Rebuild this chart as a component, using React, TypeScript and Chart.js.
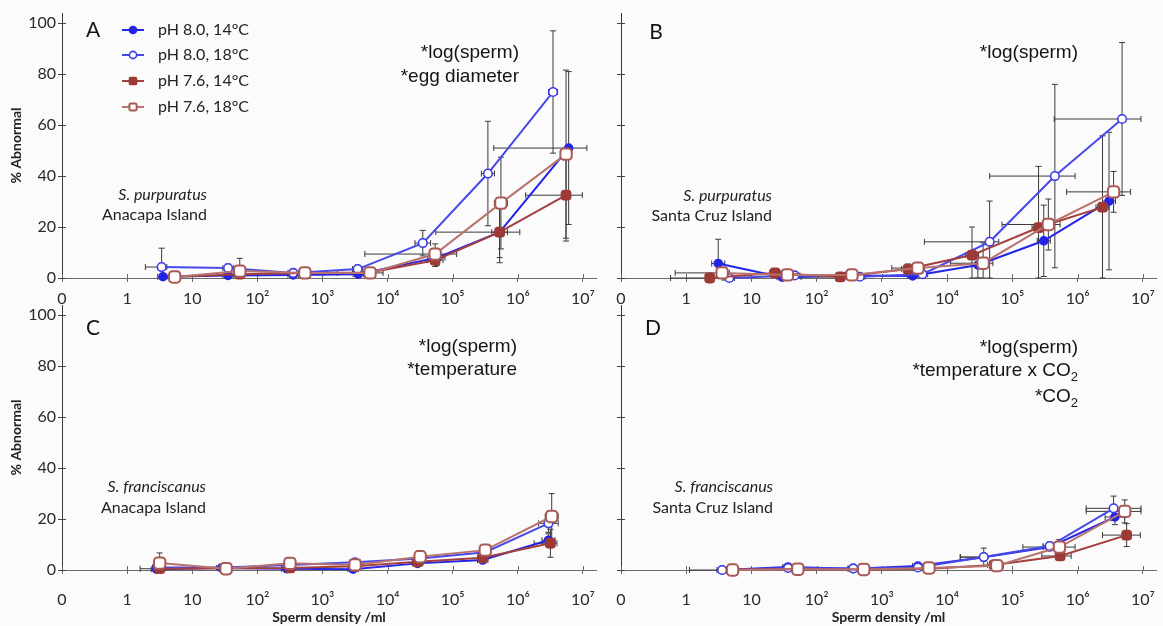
import React, { useEffect, useRef } from 'react';
import { Chart, registerables } from 'chart.js';

Chart.register(...registerables);
Chart.defaults.font.family = 'Lato';

// ---------------- data ----------------
const seriesLabels = ['pH 8.0, 14°C', 'pH 8.0, 18°C', 'pH 7.6, 14°C', 'pH 7.6, 18°C'];
// x positions are log10(sperm density); the axis origin (-1) is labelled "0"
const densityTickValues = [-1, 0, 1, 2, 3, 4, 5, 6, 7];
const densityTickLabels = ['0', '1', '10', '10²', '10³', '10⁴', '10⁵', '10⁶', '10⁷'];
const abnormalTickValues = [0, 20, 40, 60, 80, 100];

// Panel A — S. purpuratus, Anacapa Island
const A_logDensity = [
  [0.55, 1.55, 2.55, 3.55, 4.76, 5.72, 6.78],
  [0.53, 1.55, 2.55, 3.54, 4.54, 5.54, 6.54],
  [0.73, 1.73, 2.73, 3.73, 4.73, 5.72, 6.74],
  [0.73, 1.73, 2.73, 3.73, 4.73, 5.74, 6.74],
];
const A_abnormal = [
  [0.5, 1.0, 1.2, 1.5, 8, 18, 51],
  [4.3, 3.9, 2.0, 3.5, 13.7, 41, 73],
  [0.5, 1.5, 2.0, 2.2, 7, 18, 32.5],
  [0.4, 2.7, 2.0, 2.0, 9.4, 29.4, 48.6],
];
const A_abnormalErr = [
  [0.5, 0.8, 0.8, 1, 3, 10, 30],
  [7.4, 1.5, 1, 1.5, 5, 20.5, 24],
  [0.5, 1, 1, 1, 2.5, 12, 18],
  [0.5, 5, 1, 1, 4, 18, 33],
];
const A_densityErr = [
  [0.08, 0.08, 0.08, 0.08, 0.12, 0.12, [1.15, 0.28]],
  [[0.25, 0.08], 0.08, 0.08, 0.08, 0.12, 0.1, 0.07],
  [0.08, 0.08, 0.08, 0.08, 0.12, [0.98, 0.31], [0.62, 0.25]],
  [0.08, 0.08, 0.08, [0.5, 0.2], [1.08, 0.33], 0.1, 0.08],
];

// Panel B — S. purpuratus, Santa Cruz Island
const B_logDensity = [
  [0.49, 1.47, 2.48, 3.47, 4.47, 5.48, 6.48],
  [0.66, 1.66, 2.66, 3.62, 4.65, 5.65, 6.68],
  [0.36, 1.36, 2.36, 3.4, 4.38, 5.4, 6.38],
  [0.55, 1.55, 2.54, 3.55, 4.55, 5.55, 6.55],
];
const B_abnormal = [
  [5.7, 0.3, 1.0, 0.8, 5.1, 14.6, 30.2],
  [0.0, 1.0, 0.5, 1.5, 14.2, 40, 62.4],
  [0.0, 2.0, 0.4, 3.5, 9, 19.8, 27.8],
  [2.0, 1.2, 1.2, 3.9, 5.8, 21, 33.8],
];
const B_abnormalErr = [
  [9.5, 0.5, 0.5, 0.5, 5, 14, 27],
  [0.5, 0.5, 0.5, 1, 16, 36, 30],
  [0.5, 1, 0.5, 2, 11, 24, 28],
  [1, 0.8, 0.5, 2, 8, 10, 8],
];
const B_densityErr = [
  [0.1, 0.08, 0.08, 0.08, 0.1, 0.1, 0.1],
  [0.08, 0.08, 0.08, 0.08, [1.0, 0.14], [1.0, 0.31], [1.04, 0.29]],
  [[0.6, 0.2], 0.08, [0.6, 0.2], 0.1, 0.1, 0.1, 0.1],
  [[0.72, 0.11], 0.08, 0.08, [0.4, 0.1], [0.5, 0.15], [0.71, 0.18], [0.72, 0.26]],
];

// Panel C — S. franciscanus, Anacapa Island
const C_logDensity = [
  [0.45, 1.45, 2.45, 3.47, 4.46, 5.46, 6.47],
  [0.47, 1.5, 2.5, 3.5, 4.5, 5.5, 6.47],
  [0.5, 1.5, 2.5, 3.5, 4.46, 5.46, 6.5],
  [0.5, 1.52, 2.5, 3.5, 4.5, 5.5, 6.52],
];
const C_abnormal = [
  [0.3, 0.8, 0.5, 0.3, 2.6, 3.9, 11.7],
  [1.0, 1.0, 2.0, 3.0, 4.5, 7.0, 18.3],
  [0.5, 0.7, 0.8, 1.5, 3.2, 4.8, 10.5],
  [2.7, 0.5, 2.6, 2.0, 5.2, 7.8, 21],
];
const C_abnormalErr = [
  [0.5, 0.5, 0.5, 0.5, 1, 1, 2.5],
  [1, 0.5, 0.5, 1, 1, 1.5, 3.5],
  [0.5, 0.5, 0.5, 0.5, 1, 1, 5.5],
  [4, 0.5, 1, 1, 1, 2, 9],
];
const C_densityErr = [
  [0.08, 0.08, 0.08, 0.08, 0.08, 0.08, 0.1],
  [0.08, 0.08, 0.08, 0.08, 0.08, 0.08, 0.15],
  [[0.3, 0.08], 0.08, 0.08, 0.08, 0.08, 0.08, [0.25, 0.1]],
  [0.08, 0.08, 0.08, 0.08, 0.08, 0.08, 0.1],
];

// Panel D — S. franciscanus, Santa Cruz Island
const D_logDensity = [
  [0.55, 1.56, 2.56, 3.55, 4.56, 5.57, 6.57],
  [0.55, 1.56, 2.56, 3.55, 4.56, 5.57, 6.55],
  [0.71, 1.71, 2.72, 3.72, 4.72, 5.73, 6.75],
  [0.71, 1.71, 2.72, 3.72, 4.76, 5.72, 6.72],
];
const D_abnormal = [
  [0.0, 1.2, 0.5, 1.6, 5.0, 9.0, 20.8],
  [0.0, 0.8, 0.6, 1.0, 5.1, 9.4, 24.2],
  [0.2, 0.3, 0.2, 0.5, 2.0, 5.5, 13.7],
  [0.0, 0.3, 0.2, 0.8, 1.7, 9.0, 23],
];
const D_abnormalErr = [
  [0.3, 0.5, 0.5, 0.5, 1.5, 1, 3],
  [0.3, 0.5, 0.5, 0.5, 3.5, 1.5, 4.8],
  [0.3, 0.3, 0.3, 0.5, 1, 1, 4.5],
  [0.3, 0.3, 0.3, 0.5, 1, 3, 4.5],
];
const D_densityErr = [
  [0.08, 0.08, 0.08, 0.08, [0.36, 0.05], 0.1, 0.15],
  [[0.5, 0.1], 0.08, 0.08, 0.08, [0.36, 0.05], 0.1, [0.42, 0.42]],
  [0.08, 0.08, 0.08, 0.08, 0.1, [0.28, 0.17], [0.37, 0.21]],
  [0.08, 0.08, 0.08, 0.08, 0.1, [0.56, 0.24], [0.59, 0.25]],
];

// ---------------- styles ----------------
type SeriesStyle = { line: string; fill: string; border: string; point: string; radius: number; bw: number };
const seriesStyles: SeriesStyle[] = [
  { line: '#2424e6', fill: '#2424e6', border: '#2424e6', point: 'circle', radius: 4, bw: 1.5 },
  { line: '#4848ea', fill: '#ffffff', border: '#3c3ce8', point: 'circle', radius: 4.3, bw: 1.6 },
  { line: '#a33f3c', fill: '#9c3a37', border: '#9c3a37', point: 'rectRounded', radius: 5.4, bw: 1.5 },
  { line: '#b8736f', fill: '#ffffff', border: '#a85a56', point: 'rectRounded', radius: 6.6, bw: 2 },
];
const drawOrder = [3, 2, 1, 0];

// ---------------- plugins ----------------
const errorBarPlugin = {
  id: 'errorBars',
  beforeDatasetsDraw(chart: any) {
    const { ctx } = chart;
    const xs = chart.scales.x, ys = chart.scales.y;
    ctx.save();
    ctx.strokeStyle = '#3a3a3a';
    ctx.lineWidth = 1;
    const cap = 3;
    chart.data.datasets.forEach((ds: any) => {
      ds.data.forEach((p: any, i: number) => {
        const px = xs.getPixelForValue(p.x);
        const py = ys.getPixelForValue(p.y);
        const ye = ds.yErr[i];
        if (ye > 0) {
          const yt = ys.getPixelForValue(p.y + ye);
          const yb = ys.getPixelForValue(Math.max(0, p.y - ye));
          ctx.beginPath();
          ctx.moveTo(px, yt); ctx.lineTo(px, yb);
          ctx.moveTo(px - cap, yt); ctx.lineTo(px + cap, yt);
          ctx.moveTo(px - cap, yb); ctx.lineTo(px + cap, yb);
          ctx.stroke();
        }
        const xe = ds.xErr[i];
        const lo = Array.isArray(xe) ? xe[0] : xe;
        const hi = Array.isArray(xe) ? xe[1] : xe;
        if (lo > 0 || hi > 0) {
          const xl = xs.getPixelForValue(p.x - lo);
          const xr = xs.getPixelForValue(p.x + hi);
          ctx.beginPath();
          ctx.moveTo(xl, py); ctx.lineTo(xr, py);
          ctx.moveTo(xl, py - cap); ctx.lineTo(xl, py + cap);
          ctx.moveTo(xr, py - cap); ctx.lineTo(xr, py + cap);
          ctx.stroke();
        }
      });
    });
    ctx.restore();
  },
};

const innerTicksPlugin = {
  id: 'innerTicks',
  beforeDatasetsDraw(chart: any) {
    const { ctx, chartArea } = chart;
    const xs = chart.scales.x, ys = chart.scales.y;
    ctx.save();
    ctx.lineWidth = 1;
    ctx.strokeStyle = '#666';
    xs.ticks.forEach((t: any) => {
      const px = Math.round(xs.getPixelForValue(t.value)) + 0.5;
      ctx.beginPath(); ctx.moveTo(px, chartArea.bottom); ctx.lineTo(px, chartArea.bottom - 4); ctx.stroke();
    });
    ctx.strokeStyle = '#444';
    ys.ticks.forEach((t: any) => {
      const py = Math.round(ys.getPixelForValue(t.value)) + 0.5;
      ctx.beginPath(); ctx.moveTo(chartArea.left, py); ctx.lineTo(chartArea.left + 4, py); ctx.stroke();
    });
    ctx.restore();
  },
};

function drawMarker(ctx: CanvasRenderingContext2D, st: SeriesStyle, x: number, y: number, r: number) {
  ctx.beginPath();
  if (st.point === 'circle') {
    ctx.arc(x, y, r, 0, Math.PI * 2);
  } else {
    const h = r, c = r * 0.4;
    ctx.moveTo(x - h + c, y - h);
    ctx.arcTo(x + h, y - h, x + h, y + h, c);
    ctx.arcTo(x + h, y + h, x - h, y + h, c);
    ctx.arcTo(x - h, y + h, x - h, y - h, c);
    ctx.arcTo(x - h, y - h, x + h, y - h, c);
    ctx.closePath();
  }
  ctx.fillStyle = st.fill;
  ctx.fill();
  ctx.lineWidth = st.bw;
  ctx.strokeStyle = st.border;
  ctx.stroke();
}

function drawRichRight(ctx: CanvasRenderingContext2D, text: string, right: number, y: number, size: number, family: string) {
  const parts = text.split('₂');
  const segs: { t: string; sub: boolean }[] = [];
  parts.forEach((p, i) => {
    if (p) segs.push({ t: p, sub: false });
    if (i < parts.length - 1) segs.push({ t: '2', sub: true });
  });
  const normal = `${size}px ${family}`;
  const small = `${Math.round(size * 0.66)}px ${family}`;
  let total = 0;
  segs.forEach((s) => { ctx.font = s.sub ? small : normal; total += ctx.measureText(s.t).width; });
  let x = right - total;
  ctx.textAlign = 'left';
  segs.forEach((s) => {
    ctx.font = s.sub ? small : normal;
    ctx.fillText(s.t, x, s.sub ? y + size * 0.32 : y);
    x += ctx.measureText(s.t).width;
  });
}

const panelTextPlugin = {
  id: 'panelText',
  afterDraw(chart: any, _args: any, opts: any) {
    const { ctx, chartArea } = chart;
    const L = chartArea.left, B = chartArea.bottom;
    ctx.save();
    ctx.fillStyle = '#141414';
    ctx.textBaseline = 'middle';
    // panel letter
    ctx.font = '21px Lato';
    ctx.textAlign = 'center';
    ctx.fillText(opts.letter, L + opts.letterAt[0], B + opts.letterAt[1]);
    // statistics
    (opts.stats as string[]).forEach((s, i) => {
      drawRichRight(ctx, s, L + opts.statsRight, B + opts.statsRows[i], 19, '"Liberation Sans", Arial, sans-serif');
    });
    // species / site
    ctx.textAlign = 'right';
    ctx.fillStyle = '#222';
    ctx.font = 'italic 16px Lato';
    ctx.fillText(opts.species, L + opts.speciesRight, B + opts.speciesRows[0]);
    ctx.font = '16px Lato';
    ctx.fillText(opts.site, L + opts.speciesRight, B + opts.speciesRows[1]);
    // legend
    if (opts.legend) {
      chart.data.datasets.forEach((ds: any, s: number) => {
        const st = seriesStyles[s];
        const y = B + opts.legendRows[s];
        const mx = L + opts.legendMarkerX;
        ctx.beginPath();
        ctx.strokeStyle = st.line;
        ctx.lineWidth = 2;
        ctx.moveTo(mx - 11, y); ctx.lineTo(mx + 11, y);
        ctx.stroke();
        drawMarker(ctx, st, mx, y, 3.6);
        ctx.fillStyle = '#222';
        ctx.font = '16px Lato';
        ctx.textAlign = 'left';
        ctx.fillText(ds.label, L + opts.legendTextX, y);
      });
    }
    ctx.restore();
  },
};

// ---------------- panels ----------------
type PanelDef = {
  id: string;
  left: number; top: number; width: number; height: number;
  logDensity: number[][]; abnormal: number[][]; abnormalErr: number[][]; densityErr: any[][];
  padding: { top: number; left: number; right: number; bottom: number };
  yAxisWidth: number; xAxisHeight: number; xTickPad: number;
  showYLabels: boolean; showXTitle: boolean;
  text: any;
};

const panels: PanelDef[] = [
  {
    id: 'A', left: 0, top: 0, width: 600, height: 312,
    logDensity: A_logDensity, abnormal: A_abnormal, abnormalErr: A_abnormalErr, densityErr: A_densityErr,
    padding: { top: 13, left: 0, right: 4, bottom: 0 }, yAxisWidth: 62, xAxisHeight: 34, xTickPad: 7,
    showYLabels: true, showXTitle: false,
    text: {
      letter: 'A', letterAt: [31, -248],
      stats: ['*log(sperm)', '*egg diameter'], statsRight: 457, statsRows: [-225, -201],
      species: 'S. purpuratus', site: 'Anacapa Island', speciesRight: 145, speciesRows: [-83, -63],
      legend: true, legendMarkerX: 71, legendTextX: 96, legendRows: [-248, -223, -197, -171],
    },
  },
  {
    id: 'B', left: 600, top: 0, width: 563, height: 312,
    logDensity: B_logDensity, abnormal: B_abnormal, abnormalErr: B_abnormalErr, densityErr: B_densityErr,
    padding: { top: 13, left: 0, right: 7, bottom: 0 }, yAxisWidth: 21, xAxisHeight: 34, xTickPad: 7,
    showYLabels: false, showXTitle: false,
    text: {
      letter: 'B', letterAt: [35, -246],
      stats: ['*log(sperm)'], statsRight: 457, statsRows: [-225],
      species: 'S. purpuratus', site: 'Santa Cruz Island', speciesRight: 151, speciesRows: [-82, -62],
      legend: false,
    },
  },
  {
    id: 'C', left: 0, top: 300, width: 600, height: 326,
    logDensity: C_logDensity, abnormal: C_abnormal, abnormalErr: C_abnormalErr, densityErr: C_densityErr,
    padding: { top: 5, left: 0, right: 4, bottom: 0 }, yAxisWidth: 62, xAxisHeight: 56, xTickPad: 16,
    showYLabels: true, showXTitle: true,
    text: {
      letter: 'C', letterAt: [31, -242],
      stats: ['*log(sperm)', '*temperature'], statsRight: 455, statsRows: [-223, -200],
      species: 'S. franciscanus', site: 'Anacapa Island', speciesRight: 144, speciesRows: [-83, -62],
      legend: false,
    },
  },
  {
    id: 'D', left: 600, top: 300, width: 563, height: 326,
    logDensity: D_logDensity, abnormal: D_abnormal, abnormalErr: D_abnormalErr, densityErr: D_densityErr,
    padding: { top: 5, left: 0, right: 7, bottom: 0 }, yAxisWidth: 21, xAxisHeight: 56, xTickPad: 16,
    showYLabels: false, showXTitle: true,
    text: {
      letter: 'D', letterAt: [32, -242],
      stats: ['*log(sperm)', '*temperature x CO₂', '*CO₂'], statsRight: 457, statsRows: [-222, -199, -173],
      species: 'S. franciscanus', site: 'Santa Cruz Island', speciesRight: 152, speciesRows: [-83, -62],
      legend: false,
    },
  },
];

function buildConfig(p: PanelDef): any {
  return {
    type: 'line',
    data: {
      datasets: seriesLabels.map((label, s) => {
        const st = seriesStyles[s];
        return {
          label,
          data: p.logDensity[s].map((x, i) => ({ x, y: p.abnormal[s][i] })),
          yErr: p.abnormalErr[s],
          xErr: p.densityErr[s],
          borderColor: st.line,
          backgroundColor: st.fill,
          borderWidth: 2,
          pointStyle: st.point,
          pointRadius: st.radius,
          pointBackgroundColor: st.fill,
          pointBorderColor: st.border,
          pointBorderWidth: st.bw,
          tension: 0,
          clip: false,
          order: drawOrder[s],
        };
      }),
    },
    options: {
      responsive: false,
      animation: false,
      devicePixelRatio: 1,
      layout: { padding: p.padding, autoPadding: false },
      plugins: {
        legend: { display: false },
        tooltip: { enabled: false },
        panelText: p.text,
      },
      scales: {
        x: {
          type: 'linear',
          min: -1,
          max: 7.2,
          afterBuildTicks: (sc: any) => { sc.ticks = densityTickValues.map((v) => ({ value: v })); },
          afterFit: (sc: any) => {
            sc.height = p.xAxisHeight;
            sc.paddingLeft = 0;
            sc.paddingRight = 0;
          },
          ticks: {
            callback: (_v: any, i: number) => densityTickLabels[i],
            font: { family: 'Lato', size: 16 },
            color: '#2a2a2a',
            padding: p.xTickPad,
            maxRotation: 0,
            autoSkip: false,
          },
          grid: { drawOnChartArea: false, drawTicks: true, tickLength: 4, color: '#666' },
          border: { display: true, color: '#6a6a6a', width: 1 },
          title: {
            display: p.showXTitle,
            text: 'Sperm density /ml',
            font: { family: 'Lato', size: 14, weight: 'bold' },
            color: '#222',
            padding: { top: 0, bottom: 0 },
          },
        },
        y: {
          type: 'linear',
          min: 0,
          max: 104,
          afterBuildTicks: (sc: any) => { sc.ticks = abnormalTickValues.map((v) => ({ value: v })); },
          afterFit: (sc: any) => {
            sc.width = p.yAxisWidth;
            sc.paddingTop = 0;
            sc.paddingBottom = 0;
          },
          ticks: {
            display: p.showYLabels,
            font: { family: 'Lato', size: 16 },
            color: '#2a2a2a',
            padding: 2,
          },
          grid: { drawOnChartArea: false, drawTicks: true, tickLength: 4, color: '#444' },
          border: { display: true, color: '#3a3a3a', width: 1 },
          title: {
            display: p.showYLabels,
            text: '% Abnormal',
            font: { family: 'Lato', size: 14, weight: 'bold' },
            color: '#222',
            padding: { top: 8, bottom: 0 },
          },
        },
      },
    },
    plugins: [innerTicksPlugin, errorBarPlugin, panelTextPlugin],
  };
}

function PanelChart({ p }: { p: PanelDef }) {
  const ref = useRef<HTMLCanvasElement>(null);
  useEffect(() => {
    const chart = new Chart(ref.current as HTMLCanvasElement, buildConfig(p));
    return () => chart.destroy();
  }, [p]);
  return (
    <canvas
      ref={ref}
      width={p.width}
      height={p.height}
      style={{ position: 'absolute', left: p.left, top: p.top, width: p.width, height: p.height }}
    />
  );
}

export default function App() {
  return (
    <div
      style={{
        position: 'absolute', left: 0, top: 0, width: 1163, height: 626,
        background: '#fbfbfb', overflow: 'hidden',
      }}
    >
      {panels.map((p) => (
        <PanelChart key={p.id} p={p} />
      ))}
    </div>
  );
}
